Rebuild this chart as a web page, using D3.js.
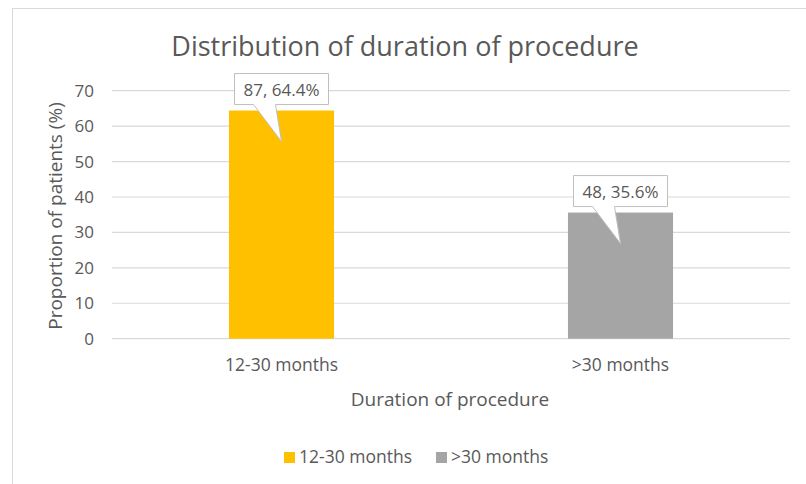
<!DOCTYPE html>
<html>
<head>
<meta charset="utf-8">
<script src="https://cdn.jsdelivr.net/npm/d3@7"></script>
<style>
  body { margin: 0; background: #fff; }
  text { font-family: "Open Sans", sans-serif; fill: #595959; }
</style>
</head>
<body>
<script>
let categories = ["12-30 months", ">30 months"];
let counts = [87, 48];
let percents = [64.4, 35.6];
let colors = ["#FFC000", "#A5A5A5"];
let yTicks = [0, 10, 20, 30, 40, 50, 60, 70];

let width = 806;
let height = 484;
let margin = { top: 90.7, right: 16, bottom: 145.3, left: 112 };

const svg = d3.select("body").append("svg")
    .attr("width", width)
    .attr("height", height);

// chart border
svg.append("rect")
    .attr("x", 12.5).attr("y", 8.5)
    .attr("width", width + 20).attr("height", height + 20)
    .attr("fill", "none")
    .attr("stroke", "#D9D9D9");

let x = d3.scaleBand(categories, [margin.left, width - margin.right])
    .paddingInner(0.69).paddingOuter(0.345);

let y = d3.scaleLinear([0, 70], [height - margin.bottom, margin.top]);

// gridlines
svg.append("g")
    .selectAll("line")
    .data(yTicks)
    .join("line")
    .attr("x1", margin.left)
    .attr("x2", width - margin.right)
    .attr("y1", d => y(d))
    .attr("y2", d => y(d))
    .attr("stroke", "#D9D9D9")
    .attr("stroke-width", 1.2);

// y tick labels
svg.append("g")
    .selectAll("text")
    .data(yTicks)
    .join("text")
    .attr("x", 94)
    .attr("y", d => y(d))
    .attr("dy", "0.35em")
    .attr("text-anchor", "end")
    .attr("font-size", 17)
    .text(d => d);

// bars
svg.append("g")
    .selectAll("rect")
    .data(categories)
    .join("rect")
    .attr("x", d => x(d))
    .attr("width", x.bandwidth())
    .attr("y", (d, i) => y(percents[i]))
    .attr("height", (d, i) => y(0) - y(percents[i]))
    .attr("fill", (d, i) => colors[i]);

// callouts
const callouts = svg.append("g")
    .selectAll("g")
    .data(categories)
    .join("g")
    .attr("transform", (d, i) => `translate(${x(d) + x.bandwidth() / 2},${y(percents[i])})`);

callouts.append("path")
    .attr("d", "M-47,-37 H47 V-6 H-6 L0,31 L-28,-6 H-47 Z")
    .attr("fill", "#fff")
    .attr("stroke", "#BFBFBF")
    .attr("stroke-width", 1);

callouts.append("text")
    .attr("x", 0)
    .attr("y", -15)
    .attr("text-anchor", "middle")
    .attr("font-size", 17)
    .text((d, i) => `${counts[i]}, ${percents[i]}%`);

// x labels
svg.append("g")
    .selectAll("text")
    .data(categories)
    .join("text")
    .attr("x", d => x(d) + x.bandwidth() / 2)
    .attr("y", 371)
    .attr("text-anchor", "middle")
    .attr("font-size", 17.5)
    .text(d => d);

// axis titles
svg.append("text")
    .attr("x", 450)
    .attr("y", 406)
    .attr("text-anchor", "middle")
    .attr("font-size", 19)
    .text("Duration of procedure");

svg.append("text")
    .attr("transform", "translate(62,216) rotate(-90)")
    .attr("text-anchor", "middle")
    .attr("font-size", 19)
    .text("Proportion of patients (%)");

// title
svg.append("text")
    .attr("x", 405)
    .attr("y", 56)
    .attr("text-anchor", "middle")
    .attr("font-size", 27)
    .text("Distribution of duration of procedure");

// legend
let legendX = [284, 436];
const legend = svg.append("g")
    .selectAll("g")
    .data(categories)
    .join("g")
    .attr("transform", (d, i) => `translate(${legendX[i]},452)`);

legend.append("rect")
    .attr("width", 11).attr("height", 11)
    .attr("fill", (d, i) => colors[i]);

legend.append("text")
    .attr("x", 15)
    .attr("y", 11)
    .attr("font-size", 17.5)
    .text(d => d);
</script>
</body>
</html>
